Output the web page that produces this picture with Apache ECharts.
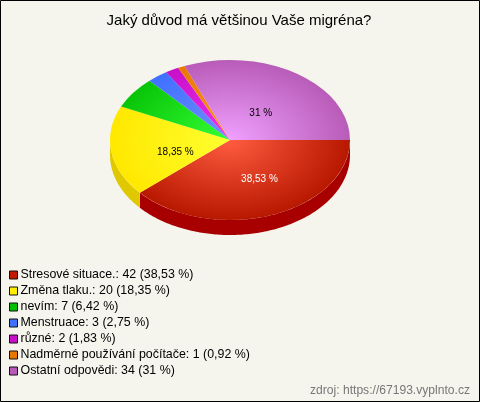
<!DOCTYPE html>
<html><head><meta charset="utf-8">
<style>html,body{margin:0;padding:0;background:#f5f5ed}#c{width:480px;height:402px}</style>
<script src="https://cdn.jsdelivr.net/npm/echarts@6/dist/echarts.min.js"></script>
</head><body><div id="c"></div>
<script>
const titleText = 'Jaký důvod má většinou Vaše migréna?';
const sourceText = 'zdroj: https://67193.vyplnto.cz';
const categories = ['Stresové situace.', 'Změna tlaku.', 'nevím', 'Menstruace', 'různé', 'Nadměrné používání počítače', 'Ostatní odpovědi'];
const values = [42, 20, 7, 3, 2, 1, 34];
const percents = ['38,53 %', '18,35 %', '6,42 %', '2,75 %', '1,83 %', '0,92 %', '31 %'];
const sliceLabels = ['38,53 %', '18,35 %', '', '', '', '', '31 %'];

const legendColors = ['#c01a00', '#ffee00', '#00c000', '#4070ff', '#c810c8', '#e87800', '#b858b8'];
const innerColors = ['#ff5c40', '#ffff30', '#34ff34', '#7090ff', '#f030f0', '#ff9820', '#f0a0ff'];
const outerColors = ['#b81800', '#ffe800', '#08c408', '#4070ff', '#c810c8', '#e87800', '#b85cb8'];
const rimColors = ['#a80000', '#e0c800', '#00a000', '#3050c0', '#a000a0', '#c06000', '#904090'];
const labelColors = ['#ffffff', '#000000', '#000000', '#000000', '#000000', '#000000', '#000000'];
const labelNudgeX = [10, 0, 0, 0, 0, 0, 0];
const labelNudgeY = [5, 7, 0, 0, 0, 0, 4];

const CX = 230, CY = 140, RX = 120, RY = 80, DEPTH = 15, LABEL_R = 0.46;
const total = values.reduce((a, b) => a + b, 0);
const TAU = Math.PI * 2;

function render(i) {
  return function (params, api) {
    const v = api.value(0), before = api.value(1);
    const a0 = before / total * TAU, a1 = (before + v) / total * TAU;
    const children = [];
    const s = Math.min(a0, Math.PI), e = Math.min(a1, Math.PI);
    if (e > s) {
      const top = [], bottom = [];
      const n = Math.max(2, Math.ceil((e - s) * 60));
      for (let k = 0; k <= n; k++) {
        const t = s + (e - s) * k / n;
        const x = CX + RX * Math.cos(t), y = CY + RY * Math.sin(t);
        top.push([x, y]);
        bottom.unshift([x, y + DEPTH]);
      }
      children.push({ type: 'polygon', shape: { points: top.concat(bottom) }, style: { fill: rimColors[i] } });
    }
    children.push({
      type: 'group', x: CX, y: CY, scaleX: 1, scaleY: RY / RX,
      children: [{
        type: 'sector',
        shape: { cx: 0, cy: 0, r: RX, r0: 0, startAngle: a0, endAngle: a1, clockwise: true },
        style: {
          fill: new echarts.graphic.RadialGradient(0, 0, RX, [
            { offset: 0, color: innerColors[i] },
            { offset: 1, color: outerColors[i] }
          ], true)
        }
      }]
    });
    if (sliceLabels[i]) {
      const m = (a0 + a1) / 2;
      children.push({
        type: 'text',
        x: CX + RX * LABEL_R * Math.cos(m) + labelNudgeX[i],
        y: CY + RY * LABEL_R * Math.sin(m) + labelNudgeY[i],
        style: { text: sliceLabels[i], fill: labelColors[i], font: '10px "Liberation Sans", Arial, sans-serif', align: 'center', verticalAlign: 'middle' }
      });
    }
    return { type: 'group', children };
  };
}

let running = 0;
const series = categories.map((name, i) => {
  const s = {
    type: 'custom', name: name + ': ' + values[i] + ' (' + percents[i] + ')',
    coordinateSystem: 'none', silent: true, animation: false,
    itemStyle: { color: legendColors[i] },
    renderItem: render(i),
    data: [[values[i], running]]
  };
  running += values[i];
  return s;
});

const chart = echarts.init(document.getElementById('c'), null, { renderer: 'canvas', width: 480, height: 402 });
chart.setOption({
  backgroundColor: '#f5f5ed',
  animation: false,
  title: {
    text: titleText, left: 234, top: 8, textAlign: 'center',
    textStyle: { fontFamily: '"Liberation Sans", Arial, sans-serif', fontSize: 15, fontWeight: 'normal', color: '#000' }
  },
  legend: {
    orient: 'vertical', left: 9, top: 267, selectedMode: false, padding: 0,
    icon: 'rect', itemWidth: 8, itemHeight: 8, itemGap: 0,
    itemStyle: { borderColor: '#111', borderWidth: 1 },
    textStyle: { fontFamily: '"Liberation Sans", Arial, sans-serif', fontSize: 12.4, color: '#000', lineHeight: 16, padding: [0, 0, 0, -2] }
  },
  graphic: [
    { type: 'text', right: 10, top: 385, style: { text: sourceText, fill: '#777', font: '12.1px "Liberation Sans", Arial, sans-serif' } },
    { type: 'rect', shape: { x: 0.5, y: 0.5, width: 479, height: 401 }, style: { fill: 'none', stroke: '#000', lineWidth: 1 }, z: 100 }
  ],
  series
});
</script></body></html>
